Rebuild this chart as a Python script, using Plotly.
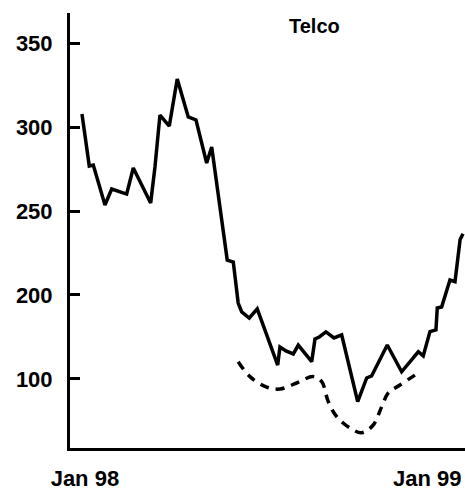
import plotly.graph_objects as go

# Solid series (weeks from start, index level)
solid_x = [0, 1.0, 1.55, 3.15, 4.07, 4.93, 6.12, 7.03, 9.41, 10.0, 10.68, 11.96, 13.05,
           14.56, 15.62, 17.08, 17.77, 18.9, 19.9, 20.73, 21.4, 21.88, 22.92, 24.01,
           26.81, 27.12, 27.95, 28.95, 29.63, 31.47, 31.92, 32.51, 33.42, 34.52, 35.58,
           37.77, 39.0, 39.68, 41.82, 43.79, 46.07, 46.75, 47.67, 48.49, 48.67, 49.27,
           50.41, 51.1, 51.8, 52.2]
solid_y = [307.7, 276.8, 277.4, 253.6, 263.1, 261.9, 260.1, 275.6, 254.8, 276.2, 307.1,
           300.6, 328.6, 306.0, 304.2, 278.6, 288.1, 252.4, 220.8, 219.6, 195.2, 189.9,
           186.3, 191.7, 158.3, 169.0, 166.7, 164.9, 170.2, 160.3, 173.8, 175.0, 178.0,
           174.4, 176.2, 136.5, 150.6, 151.8, 170.2, 154.3, 166.2, 163.7, 178.2, 179.2,
           192.3, 192.9, 208.9, 207.9, 233.0, 236.5]

# Dashed series
dash_x = [21.4, 23.01, 25.3, 27.12, 29.41, 31.68, 32.84, 33.74, 34.89, 36.71, 38.32,
          39.9, 41.06, 41.96, 43.56, 46.07]
dash_y = [160.3, 151.4, 145.2, 144.0, 147.6, 151.4, 148.4, 136.5, 127.6, 120.8, 118.0,
          122.6, 133.5, 141.7, 146.4, 153.6]

y_tickvals = [150, 200, 250, 300, 350]
y_ticktext = ["100", "200", "250", "300", "350"]
x_tickvals = [0.4, 47.3]
x_ticktext = ["Jan 98", "Jan 99"]
title_text = "Telco"

FAM = "Liberation Sans, Arial, Helvetica, sans-serif"
font = dict(family=FAM, size=22, color="black", weight="bold")

fig = go.Figure()
fig.add_trace(go.Scatter(x=solid_x, y=solid_y, mode="lines",
                         line=dict(color="black", width=3.5), showlegend=False,
                         hoverinfo="skip"))
fig.add_trace(go.Scatter(x=dash_x, y=dash_y, mode="lines",
                         line=dict(color="black", width=3.5, dash="9px,7px", shape="spline"),
                         showlegend=False, hoverinfo="skip"))

fig.update_layout(
    width=465, height=497,
    margin=dict(l=70, r=0, t=13, b=49),
    paper_bgcolor="white", plot_bgcolor="white",
    font=font,
    annotations=[dict(text=title_text, x=31.9, y=360.1, xref="x", yref="y",
                      showarrow=False,
                      font=dict(size=20, color="black", family=FAM, weight="bold"))],
)
fig.update_xaxes(range=[-1.64, 52.47], showgrid=False, zeroline=False,
                 showline=True, linecolor="black", linewidth=3,
                 tickvals=x_tickvals, ticktext=x_ticktext, ticks="",
                 ticklabelstandoff=9)
fig.update_yaxes(range=[108.9, 367.9], showgrid=False, zeroline=False,
                 showline=True, linecolor="black", linewidth=3,
                 tickvals=y_tickvals, ticktext=y_ticktext, ticks="inside",
                 ticklen=10, tickwidth=2.5, tickcolor="black",
                 ticklabelstandoff=10)

fig.write_html("out.html",
               config={"displayModeBar": False},
               post_script="document.body.style.margin='0';"
                           "document.body.style.overflow='hidden';")
